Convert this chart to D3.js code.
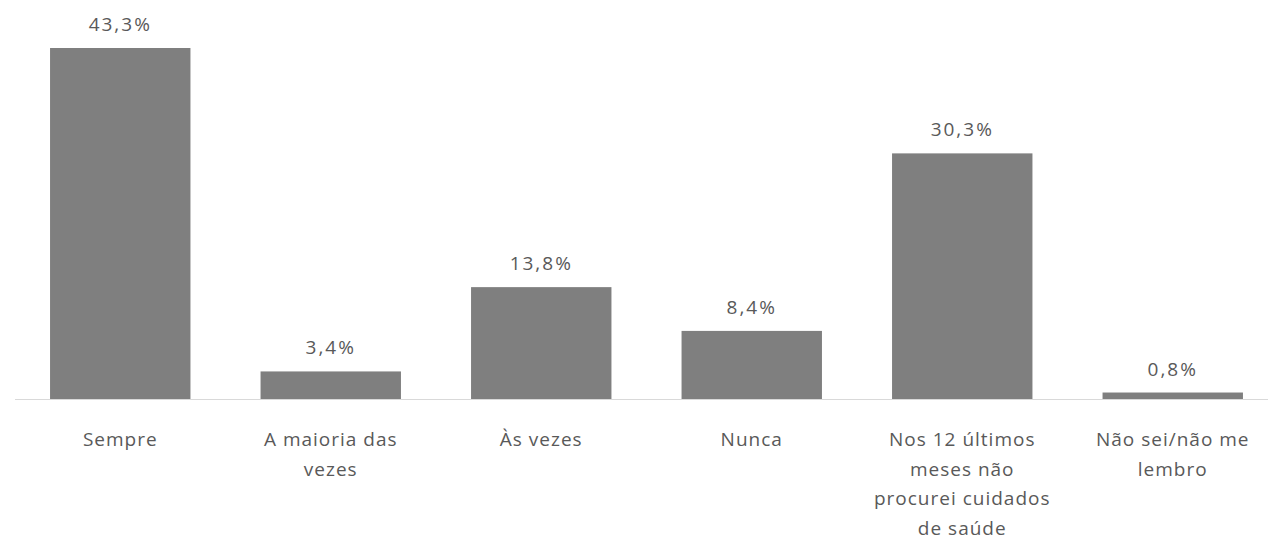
<!DOCTYPE html>
<html>
<head>
<meta charset="utf-8">
<script src="https://cdn.jsdelivr.net/npm/d3@7"></script>
<style>
  html, body { margin: 0; padding: 0; background: #fff; }
  #chart { width: 1268px; height: 540px; }
  text { font-family: "Open Sans", "Noto Sans", sans-serif; fill: #595959; }
</style>
</head>
<body>
<div id="chart"></div>
<script>
// categories (line breaks as in the original)
const categories = [
    "Sempre",
    "A maioria das|vezes",
    "Às vezes",
    "Nunca",
    "Nos 12 últimos|meses não|procurei cuidados|de saúde",
    "Não sei/não me|lembro"
];
const values = [43.3, 3.4, 13.8, 8.4, 30.3, 0.8];
const valueLabels = ["43,3%", "3,4%", "13,8%", "8,4%", "30,3%", "0,8%"];

const width = 1268, height = 540;
const baseline = 399;

const svg = d3.select("#chart").append("svg")
    .attr("width", width)
    .attr("height", height);

const x = d3.scaleBand()
    .domain(categories)
    .range([15, 1278])
    .paddingInner(0.333)
    .paddingOuter(0.1665);

const y = d3.scaleLinear()
    .domain([0, 43.3])
    .range([baseline, 48]);

// bars
svg.selectAll("rect.bar")
    .data(values)
    .enter().append("rect")
    .attr("class", "bar")
    .attr("x", (d, i) => x(categories[i]))
    .attr("width", x.bandwidth())
    .attr("y", d => y(d))
    .attr("height", d => baseline - y(d))
    .attr("fill", "#7f7f7f");

// axis line
svg.append("line")
    .attr("x1", 15).attr("x2", width)
    .attr("y1", baseline + 0.5).attr("y2", baseline + 0.5)
    .attr("stroke", "#d9d9d9")
    .attr("stroke-width", 1);

// value labels
svg.selectAll("text.value")
    .data(values)
    .enter().append("text")
    .attr("class", "value")
    .attr("x", (d, i) => x(categories[i]) + x.bandwidth() / 2)
    .attr("y", d => y(d) - 17)
    .attr("text-anchor", "middle")
    .style("font-size", "19px")
    .style("letter-spacing", "2px")
    .text((d, i) => valueLabels[i]);

// category labels
const cat = svg.selectAll("text.cat")
    .data(categories)
    .enter().append("text")
    .attr("class", "cat")
    .attr("text-anchor", "middle")
    .style("font-size", "19px")
    .style("letter-spacing", "1px");

cat.each(function(d) {
    const cx = x(d) + x.bandwidth() / 2;
    d3.select(this).selectAll("tspan")
        .data(d.split("|"))
        .enter().append("tspan")
        .attr("x", cx)
        .attr("y", (t, j) => 446 + j * 29.5)
        .text(t => t);
});
</script>
</body>
</html>
